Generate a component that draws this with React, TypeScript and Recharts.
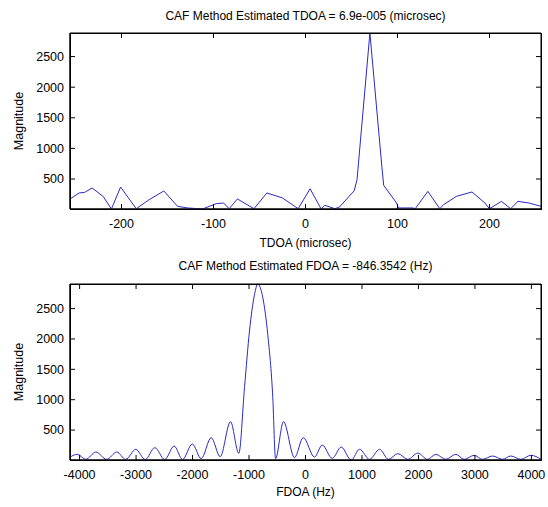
import { CartesianGrid, Line, LineChart, XAxis, YAxis } from 'recharts'

// TDOA cross-section (microsec vs magnitude)
const tdoaUs = [
  -256, -246, -240, -232, -220, -211, -201, -184, -170, -154, -139, -128, -112, -97, -89, -83,
  -74, -56, -42, -25, -8, 5, 17, 21, 32, 37, 53, 56, 70, 83, 85, 99, 101, 117, 119, 133, 146,
  150, 164, 181, 195, 200, 213, 223, 231, 243, 256,
]
const tdoaMag = [
  174, 272, 282, 353, 216, 10, 369, 15, 162, 304, 53, 27, 10, 97, 108, 15, 174, 15, 272, 190,
  15, 340, 10, 70, 15, 43, 310, 489, 2885, 705, 396, 108, 27, 27, 10, 298, 15, 80, 216, 288, 108,
  15, 135, 15, 135, 108, 53,
]

// FDOA cross-section (Hz vs magnitude)
const fdoaHz = [
  -4170, -4038, -3891, -3714, -3519, -3342, -3183, -3006, -2839, -2669, -2492, -2326, -2178,
  -2005, -1847, -1670, -1511, -1328, -1181, -1080, -992, -903, -846, -756, -668, -579, -531,
  -390, -195, -40, 159, 296, 473, 632, 809, 956, 1134, 1311, 1470, 1635, 1812, 1989, 2161, 2308,
  2485, 2662, 2810, 2988, 3135, 3312, 3489, 3636, 3813, 3990, 4170,
]
const fdoaMag = [
  56, 100, 18, 138, 18, 138, 18, 183, 15, 210, 15, 237, 15, 270, 30, 375, 62, 638, 117, 1200,
  2130, 2730, 2905, 2680, 2070, 1030, 30, 638, 46, 375, 56, 253, 35, 220, 7, 183, 18, 183, 18,
  112, 18, 120, 18, 100, 18, 100, 18, 84, 18, 73, 18, 73, 18, 84, 20,
]

const tdoaTicks = [-200, -100, 0, 100, 200]
const fdoaTicks = [-4000, -3000, -2000, -1000, 0, 1000, 2000, 3000, 4000]
const magTicks = [500, 1000, 1500, 2000, 2500]

const tdoaData = tdoaUs.map((x, i) => ({ x, mag: tdoaMag[i] }))
const fdoaData = fdoaHz.map((x, i) => ({ x, mag: fdoaMag[i] }))

const font = '"Liberation Sans", Arial, sans-serif'
const PLOT_L = 70
const PLOT_T = 33
const PLOT_W = 471
const PLOT_H = 176
const PANEL2_TOP = 251
const GAP = 10
const TICK = 5

// matlab style: label outside, tick marks inside on both sides of the box
function XTick(props: any) {
  const { x, y, payload } = props
  const axisY = y - GAP
  return (
    <g>
      <line x1={x} x2={x} y1={axisY} y2={axisY - TICK} stroke="#000" strokeWidth={1} />
      <line
        x1={x}
        x2={x}
        y1={axisY - PLOT_H}
        y2={axisY - PLOT_H + TICK}
        stroke="#000"
        strokeWidth={1}
      />
      <text x={x} y={y} dy="0.71em" textAnchor="middle" fontSize={12.5} fontFamily={font} fill="#000">
        {payload.value}
      </text>
    </g>
  )
}

function YTick(props: any) {
  const { x, y, payload } = props
  const axisX = x + 6
  return (
    <g>
      <line x1={axisX} x2={axisX + TICK} y1={y} y2={y} stroke="#000" strokeWidth={1} />
      <line
        x1={axisX + PLOT_W}
        x2={axisX + PLOT_W - TICK}
        y1={y}
        y2={y}
        stroke="#000"
        strokeWidth={1}
      />
      <text x={x} y={y} dy="0.355em" textAnchor="end" fontSize={12.5} fontFamily={font} fill="#000">
        {payload.value}
      </text>
    </g>
  )
}

interface IPanel {
  data: { x: number; mag: number }[]
  xDomain: [number, number]
  xTicks: number[]
  curve: 'linear' | 'monotone'
}

function Panel({ data, xDomain, xTicks, curve }: IPanel) {
  return (
    <LineChart
      width={548}
      height={257}
      data={data}
      margin={{ top: PLOT_T, right: 7, bottom: 18, left: 30 }}
    >
      <CartesianGrid
        stroke="#000"
        strokeOpacity={1}
        horizontalPoints={[PLOT_T, PLOT_T + PLOT_H]}
        verticalPoints={[PLOT_L, PLOT_L + PLOT_W]}
      />
      <XAxis
        dataKey="x"
        type="number"
        domain={xDomain}
        ticks={xTicks}
        allowDataOverflow
        height={30}
        stroke="#000"
        tickLine={false}
        tickSize={0}
        tickMargin={GAP}
        tick={<XTick />}
      />
      <YAxis
        type="number"
        domain={['dataMin', 'dataMax']}
        ticks={magTicks}
        width={40}
        stroke="#000"
        tickLine={false}
        tickSize={0}
        tickMargin={6}
        tick={<YTick />}
      />
      <Line
        type={curve}
        dataKey="mag"
        stroke="#2a2ac4"
        strokeWidth={1}
        dot={false}
        isAnimationActive={false}
      />
    </LineChart>
  )
}

// plain css box round each plot area
const frame = (top: number) => (
  <div
    style={{
      position: 'absolute',
      left: PLOT_L,
      top,
      width: PLOT_W + 1,
      height: PLOT_H + 1,
      boxSizing: 'border-box',
      border: '1px solid #000',
      pointerEvents: 'none',
    }}
  />
)

const label = (top: number, text: string) => (
  <div
    style={{
      position: 'absolute',
      left: 70,
      width: 471,
      top,
      lineHeight: '16px',
      fontSize: 12,
      textAlign: 'center',
      fontFamily: font,
      color: '#000',
    }}
  >
    {text}
  </div>
)

const yLabel = (centerY: number) => (
  <div
    style={{
      position: 'absolute',
      left: 19 - 50,
      top: centerY - 8,
      width: 100,
      lineHeight: '16px',
      fontSize: 12.5,
      textAlign: 'center',
      fontFamily: font,
      transform: 'rotate(-90deg)',
    }}
  >
    Magnitude
  </div>
)

export default function App() {
  return (
    <div
      style={{
        position: 'absolute',
        left: 0,
        top: 0,
        width: 548,
        height: 507,
        background: '#fff',
        overflow: 'hidden',
      }}
    >
      <div style={{ position: 'absolute', left: 0, top: 0 }}>
        <Panel data={tdoaData} xDomain={[-256, 256]} xTicks={tdoaTicks} curve="linear" />
      </div>
      <div style={{ position: 'absolute', left: 0, top: PANEL2_TOP }}>
        <Panel data={fdoaData} xDomain={[-4170, 4170]} xTicks={fdoaTicks} curve="monotone" />
      </div>
      {frame(PLOT_T)}
      {frame(PANEL2_TOP + PLOT_T)}
      {label(8, 'CAF Method Estimated TDOA = 6.9e-005 (microsec)')}
      {label(235, 'TDOA (microsec)')}
      {label(258, 'CAF Method Estimated FDOA = -846.3542 (Hz)')}
      {label(484, 'FDOA (Hz)')}
      {yLabel(121)}
      {yLabel(372)}
    </div>
  )
}
